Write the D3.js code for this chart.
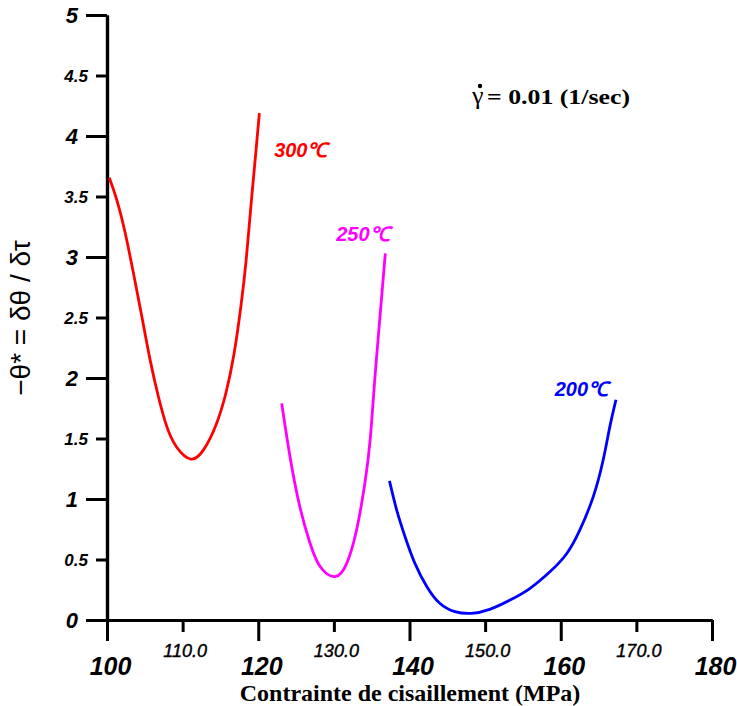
<!DOCTYPE html>
<html>
<head>
<meta charset="utf-8">
<script src="https://cdn.jsdelivr.net/npm/d3@7"></script>
<style>
  html, body { margin: 0; padding: 0; background: #fff; }
  svg { display: block; }
</style>
</head>
<body>
<svg id="chart" width="737" height="706"></svg>
<script>
// ---- data ----
const xMajorTicks = [100, 120, 140, 160, 180];
const xMinorTicks = [110, 130, 150, 170];
const yMajorTicks = [0, 1, 2, 3, 4, 5];
const yMinorTicks = [0.5, 1.5, 2.5, 3.5, 4.5];

const series300 = [
  [100.3, 3.655], [101.3, 3.47], [102.4, 3.20], [103.5, 2.865], [104.6, 2.51],
  [105.7, 2.15], [106.8, 1.845], [107.9, 1.60], [109.2, 1.43], [111.1, 1.33],
  [112.8, 1.41], [114.4, 1.61], [115.7, 1.87], [116.8, 2.20], [117.7, 2.59],
  [118.4, 2.975], [119.1, 3.47], [119.7, 3.88], [120.15, 4.19]
];
const series250 = [
  [123.1, 1.79], [124.2, 1.35], [125.5, 0.936], [126.85, 0.634], [128.2, 0.44],
  [130.16, 0.358], [131.7, 0.468], [133.0, 0.744], [134.1, 1.13], [134.8, 1.49],
  [135.4, 1.98], [136.1, 2.51], [136.8, 3.03]
];
const series200 = [
  [137.35, 1.15], [138.3, 0.91], [139.4, 0.69], [140.7, 0.47], [142.3, 0.275],
  [144.0, 0.138], [146.0, 0.069], [148.2, 0.055], [150.6, 0.088], [153.3, 0.165],
  [155.9, 0.26], [158.6, 0.40], [160.8, 0.55], [162.5, 0.74], [164.3, 1.02],
  [165.6, 1.32], [166.5, 1.60], [167.3, 1.82]
];
const seriesNames = ["300℃", "250℃", "200℃"];
const seriesColors = ["#ff0000", "#ff00ff", "#0000ff"];
const labelPos = [[122.1, 3.83], [130.3, 3.13], [159.2, 1.85]];

const xTitle = "Contrainte de cisaillement (MPa)";
const yTitle = "−θ* = δθ / δτ";
const rateSymbol = "γ";
const rateText = "= 0.01 (1/sec)";

// ---- scales ----
const svg = d3.select("#chart");
const x = d3.scaleLinear().domain([100, 180]).range([107, 712]);
const y = d3.scaleLinear().domain([0, 5]).range([620, 15]);

// ---- axes ----
const axisStroke = 3.2;
function styleAxis(g) {
  g.select(".domain").attr("stroke", "#000").attr("stroke-width", axisStroke);
  g.selectAll(".tick line").attr("stroke", "#000").attr("stroke-width", 3);
}

// x minor
const gxMinor = svg.append("g").attr("transform", `translate(0,${y(0)})`)
  .call(d3.axisBottom(x).tickValues(xMinorTicks).tickSize(12).tickSizeOuter(0)
    .tickFormat(d3.format(".1f")));
styleAxis(gxMinor);
gxMinor.selectAll(".tick text")
  .attr("y", 37).attr("dy", 0).attr("dx", 2)
  .attr("font-family", "Liberation Sans, Arial, sans-serif")
  .attr("font-style", "italic").attr("font-size", 18).attr("fill", "#000")
  .attr("stroke", "#000").attr("stroke-width", 0.4);

// x major
const gxMajor = svg.append("g").attr("transform", `translate(0,${y(0)})`)
  .call(d3.axisBottom(x).tickValues(xMajorTicks).tickSize(21).tickSizeOuter(0)
    .tickFormat(d3.format("d")));
styleAxis(gxMajor);
gxMajor.selectAll(".tick text")
  .attr("y", 55).attr("dy", 0).attr("dx", 3)
  .attr("font-family", "Liberation Sans, Arial, sans-serif")
  .attr("font-style", "italic").attr("font-weight", "bold")
  .attr("font-size", 25).attr("fill", "#000");

// y minor
const gyMinor = svg.append("g").attr("transform", `translate(${x(100)},0)`)
  .call(d3.axisLeft(y).tickValues(yMinorTicks).tickSize(11).tickSizeOuter(0)
    .tickFormat(d3.format(".1f")));
styleAxis(gyMinor);
gyMinor.selectAll(".tick text")
  .attr("x", -19).attr("dy", "0.35em")
  .attr("font-family", "Liberation Sans, Arial, sans-serif")
  .attr("font-style", "italic").attr("font-weight", "bold")
  .attr("font-size", 17).attr("fill", "#000");

// y major
const gyMajor = svg.append("g").attr("transform", `translate(${x(100)},0)`)
  .call(d3.axisLeft(y).tickValues(yMajorTicks).tickSize(21).tickSizeOuter(0)
    .tickFormat(d3.format("d")));
styleAxis(gyMajor);
gyMajor.selectAll(".tick text")
  .attr("x", -29).attr("dy", "0.36em")
  .attr("font-family", "Liberation Sans, Arial, sans-serif")
  .attr("font-style", "italic").attr("font-weight", "bold")
  .attr("font-size", 22).attr("fill", "#000");

// ---- curves ----
const line = d3.line().x(d => x(d[0])).y(d => y(d[1])).curve(d3.curveNatural);
[series300, series250, series200].forEach((s, i) => {
  svg.append("path").datum(s)
    .attr("d", line)
    .attr("fill", "none")
    .attr("stroke", seriesColors[i])
    .attr("stroke-width", 2.8)
    .attr("stroke-linejoin", "round");
  svg.append("text")
    .attr("x", x(labelPos[i][0])).attr("y", y(labelPos[i][1]))
    .attr("font-family", "Liberation Sans, Arial, sans-serif")
    .attr("font-style", "italic").attr("font-weight", "bold")
    .attr("font-size", 20).attr("fill", seriesColors[i])
    .text(seriesNames[i]);
});

// ---- titles ----
svg.append("text")
  .attr("x", 410).attr("y", 701)
  .attr("text-anchor", "middle")
  .attr("font-family", "Liberation Serif, Times New Roman, serif")
  .attr("font-weight", "bold").attr("font-size", 24)
  .attr("fill", "#000")
  .text(xTitle);

svg.append("text")
  .attr("transform", "translate(30,318) rotate(-90)")
  .attr("text-anchor", "middle")
  .attr("font-family", "Liberation Sans, Arial, sans-serif")
  .attr("font-size", 28)
  .attr("fill", "#000")
  .text(yTitle);

// rate annotation: gamma with a dot above, then the value
svg.append("text")
  .attr("x", 472).attr("y", 104)
  .attr("font-family", "Liberation Serif, Times New Roman, serif")
  .attr("font-size", 26)
  .attr("fill", "#000")
  .text(rateSymbol);
svg.append("circle")
  .attr("cx", 480).attr("cy", 86).attr("r", 2.2).attr("fill", "#000");
svg.append("text")
  .attr("x", 487).attr("y", 104)
  .attr("font-family", "Liberation Serif, Times New Roman, serif")
  .attr("font-weight", "bold").attr("font-size", 22)
  .attr("fill", "#000")
  .attr("textLength", 143).attr("lengthAdjust", "spacingAndGlyphs")
  .text(rateText);
</script>
</body>
</html>
